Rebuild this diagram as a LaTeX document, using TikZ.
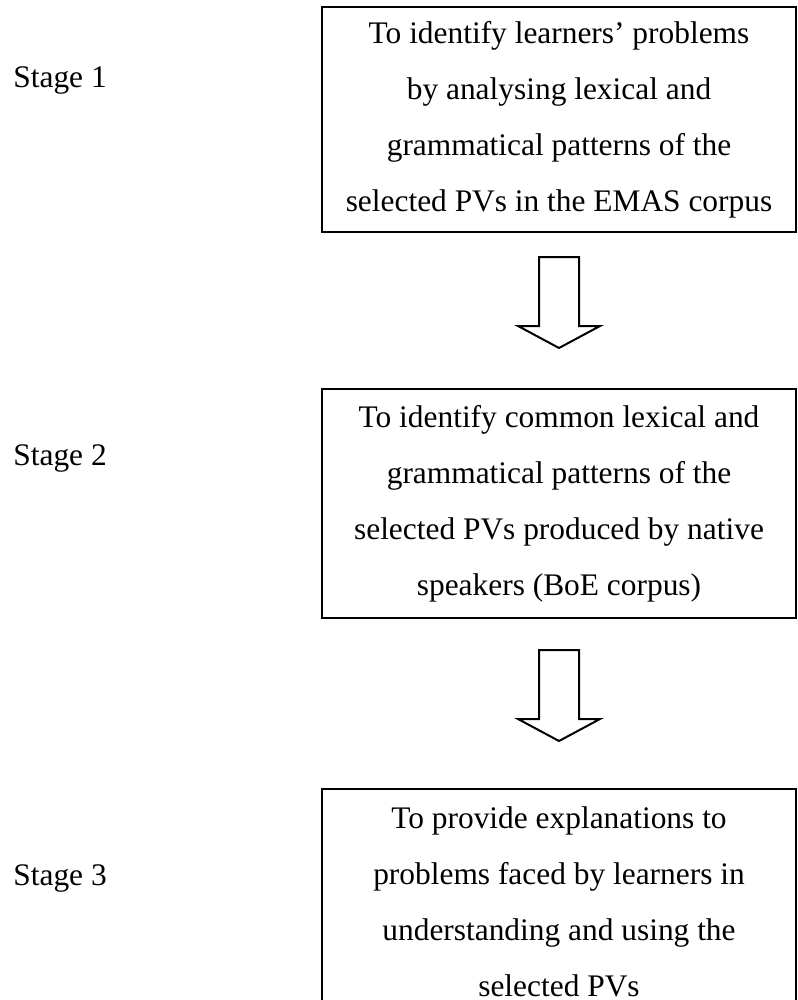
\documentclass[tikz,border=0pt]{standalone}
\usepackage{fontspec}
\setmainfont{Liberation Serif}
\usetikzlibrary{positioning,calc}

\tikzset{
  aimbox/.style={draw, line width=1pt, minimum width=237pt, align=center,
    inner sep=0pt, font=\fontsize{15.7}{28}\selectfont},
  stagelabel/.style={anchor=west, inner sep=0pt, font=\fontsize{15.7}{28}\selectfont},
  hollowarrow/.style={draw, line width=1pt, fill=white, line join=miter}
}

\begin{document}
\begin{tikzpicture}[x=0.5pt, y=-0.5pt]
  % page frame
  \useasboundingbox[fill=white] (0,0) rectangle (797,1000);

  % boxes
  \node[aimbox, minimum height=112.5pt] (box1) at (559,119.5)
    {To identify learners' problems\\ by analysing lexical and\\
     grammatical patterns of the\\ selected PVs in the EMAS corpus};
  \node[aimbox, minimum height=114.5pt, below=77.5pt of box1] (box2)
    {To identify common lexical and\\ grammatical patterns of the\\
     selected PVs produced by native\\ speakers (BoE corpus)};
  \node[aimbox, minimum height=112.5pt, below=84.5pt of box2] (box3)
    {To provide explanations to\\ problems faced by learners in\\
     understanding and using the\\ selected PVs};

  % stage labels
  \node[stagelabel] (stage1) at (13,80) {Stage 1};
  \node[stagelabel] (stage2) at (13,458) {Stage 2};
  \node[stagelabel] (stage3) at (13,878) {Stage 3};

  % hollow arrows between the boxes
  \coordinate (a1) at ($(box1.south)+(0,24)$);
  \coordinate (a2) at ($(box2.south)+(0,31)$);
  \foreach \a in {a1,a2}
    \draw[hollowarrow] (\a) ++(-20,0) -- ++(0,69) -- ++(-21,0) -- ++(41,22)
      -- ++(41,-22) -- ++(-21,0) -- ++(0,-69) -- cycle;
\end{tikzpicture}
\end{document}
